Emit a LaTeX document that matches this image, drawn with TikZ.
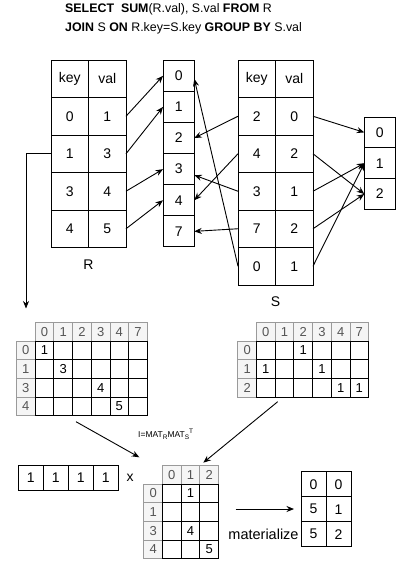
\documentclass[tikz,border=0pt]{standalone}
\usepackage{fontspec}
\setmainfont{Liberation Sans}
\usetikzlibrary{arrows.meta,calc}
\definecolor{hdrfill}{HTML}{F5F5F5}
\definecolor{hdrline}{HTML}{9A9A9A}
\definecolor{hdrtext}{HTML}{555555}
\newcommand{\drawmat}[6]{%
  \foreach \c [count=\j from 0] in {#4}
    \node[hdrcell, anchor=north west] (#1-h\j) at ({#2+18.7*(\j+1)}, #3) {\c};
  \foreach \r [count=\i from 0] in {#5}
    \node[hdrcell, anchor=north west] (#1-r\i) at (#2, {#3+18.7*(\i+1)}) {\r};
  \foreach \row [count=\i from 0] in {#6} {
    \foreach \e [count=\j from 0] in \row
      \node[datacell, anchor=north west] (#1-\i-\j) at ({#2+18.7*(\j+1)}, {#3+18.7*(\i+1)}) {\e};
  }
}
\newcommand{\smalltxt}[1]{{\fontsize{6.5}{7}\selectfont #1}}
\begin{document}
\begin{tikzpicture}[x=1pt,y=-1pt,
  lw/.style={line width=0.9pt},
  bigcell/.style={draw, lw, minimum width=37.5pt, minimum height=37.5pt, inner sep=0pt, outer sep=0pt, font=\fontsize{14}{16}\selectfont},
  idxcell/.style={draw, lw, minimum width=31.3pt, minimum height=31.1pt, inner sep=0pt, outer sep=0pt, font=\fontsize{14}{16}\selectfont},
  valcell/.style={draw, lw, minimum width=31pt, minimum height=30.8pt, inner sep=0pt, outer sep=0pt, font=\fontsize{14}{16}\selectfont},
  hdrcell/.style={draw=hdrline, fill=hdrfill, text=hdrtext, lw, minimum width=18.7pt, minimum height=18.7pt, inner sep=0pt, outer sep=0pt, font=\fontsize{13}{15}\selectfont},
  datacell/.style={draw, lw, minimum width=18.7pt, minimum height=18.7pt, inner sep=0pt, outer sep=0pt, font=\fontsize{13}{15}\selectfont},
  veccell/.style={draw, lw, minimum width=25pt, minimum height=24.3pt, inner sep=0pt, outer sep=0pt, font=\fontsize{14}{16}\selectfont},
  rescell/.style={draw, lw, minimum width=25pt, minimum height=25pt, inner sep=0pt, outer sep=0pt, font=\fontsize{14}{16}\selectfont},
  lbl/.style={font=\fontsize{14}{16}\selectfont, inner sep=0pt},
  arr/.style={lw, -{Stealth[length=7.5pt,width=6pt]}}
]
\useasboundingbox (0,0) rectangle (396,565);

% title
\node[anchor=base west, inner sep=0pt, font=\fontsize{12.4}{14}\selectfont] (t1) at (65,12) {\textbf{SELECT}\ \ \textbf{SUM}(R.val), S.val \textbf{FROM} R};
\node[anchor=base west, inner sep=0pt, font=\fontsize{12.4}{14}\selectfont] (t2) at (65,31.7) {\textbf{JOIN} S \textbf{ON} R.key=S.key \textbf{GROUP BY} S.val};

% R table
\foreach \k/\v [count=\i from 0] in {key/val,0/1,1/3,3/4,4/5} {
  \node[bigcell, anchor=north west] (Rk\i) at (51, 60+37.5*\i) {\k};
  \node[bigcell, anchor=north west] (Rv\i) at (88.5, 60+37.5*\i) {\v};
}
\node[lbl] (Rlab) at (88.5,265) {R};

% key index
\foreach \t [count=\i from 0] in {0,1,2,3,4,7}
  \node[idxcell, anchor=north west] (K\t) at (163, 60.3+31.1*\i) {\t};

% S table
\foreach \k/\v [count=\i from 0] in {key/val,2/0,4/2,3/1,7/2,0/1} {
  \node[bigcell, anchor=north west] (Sk\i) at (238, 60+37.5*\i) {\k};
  \node[bigcell, anchor=north west] (Sv\i) at (275.5, 60+37.5*\i) {\v};
}
\node[lbl] (Slab) at (275.5,302) {S};

% val index
\foreach \t [count=\i from 0] in {0,1,2}
  \node[valcell, anchor=north west] (V\t) at (364.3, 117+30.8*\i) {\t};

% R -> key index
\draw[arr] (Rv1.east) -- (K0.west);
\draw[arr] (Rv2.east) -- (K1.west);
\draw[arr] (Rv3.east) -- (K3.west);
\draw[arr] (Rv4.east) -- (K4.west);

% S -> key index
\draw[arr] (Sk1.west) -- (K2.east);
\draw[arr] (Sk2.west) -- (K4.east);
\draw[arr] (Sk3.west) -- ([yshift=-6pt]K3.east);
\draw[arr] (Sk4.west) -- (K7.east);
\draw[arr] (Sk5.west) -- ([yshift=-3pt]K0.east);

% S -> val index
\draw[arr] (Sv1.east) -- (V0.west);
\draw[arr] (Sv2.east) -- (V2.west);
\draw[arr] (Sv3.east) -- (V1.west);
\draw[arr] (Sv4.east) -- (V2.west);
\draw[arr] (Sv5.east) -- (V1.west);

% left connector
\coordinate (down) at (26,308.5);
\draw[arr] (Rk2.west) -| (down);

% matrices
\drawmat{MR}{16.5}{322.3}{0,1,2,3,4,7}{0,1,3,4}{{1,{},{},{},{},{}},{{},3,{},{},{},{}},{{},{},{},4,{},{}},{{},{},{},{},5,{}}}
\drawmat{MS}{237.8}{322.3}{0,1,2,3,4,7}{0,1,2}{{{},{},1,{},{},{}},{1,{},{},1,{},{}},{{},{},{},{},1,1}}
\drawmat{MI}{143.8}{465.3}{0,1,2}{0,1,3,4}{{{},1,{}},{{},{},{}},{{},4,{}},{{},{},5}}

% arrows to I
\coordinate (a1s) at (76,421.7);
\coordinate (a1e) at (139.3,457.3);
\coordinate (a2s) at (277.7,401.7);
\coordinate (a2e) at (203.3,462.7);
\draw[arr] (a1s) -- (a1e);
\draw[arr] (a2s) -- (a2e);
\node[inner sep=0pt, anchor=base west, font=\fontsize{8.5}{10}\selectfont] (ilab) at (138,437) {I=MAT\raisebox{-2.2pt}{\smalltxt{R}}MAT\raisebox{-2.2pt}{\smalltxt{S}}\raisebox{4pt}{\smalltxt{T}}};

% vector
\foreach \i in {0,1,2,3}
  \node[veccell, anchor=north west] (X\i) at (18.3+25*\i, 465.7) {1};
\node[lbl] (times) at (130,477.5) {x};

% result
\foreach \a/\b [count=\i from 0] in {0/0,5/1,5/2} {
  \node[rescell, anchor=north west] (Ra\i) at (301, 471.7+25*\i) {\a};
  \node[rescell, anchor=north west] (Rb\i) at (326, 471.7+25*\i) {\b};
}
\coordinate (ms) at (235.7,509);
\coordinate (me) at (294,509);
\draw[arr] (ms) -- (me);
\node[lbl, font=\fontsize{14.5}{16}\selectfont] (mat) at (263.5,534) {materialize};
\end{tikzpicture}
\end{document}
